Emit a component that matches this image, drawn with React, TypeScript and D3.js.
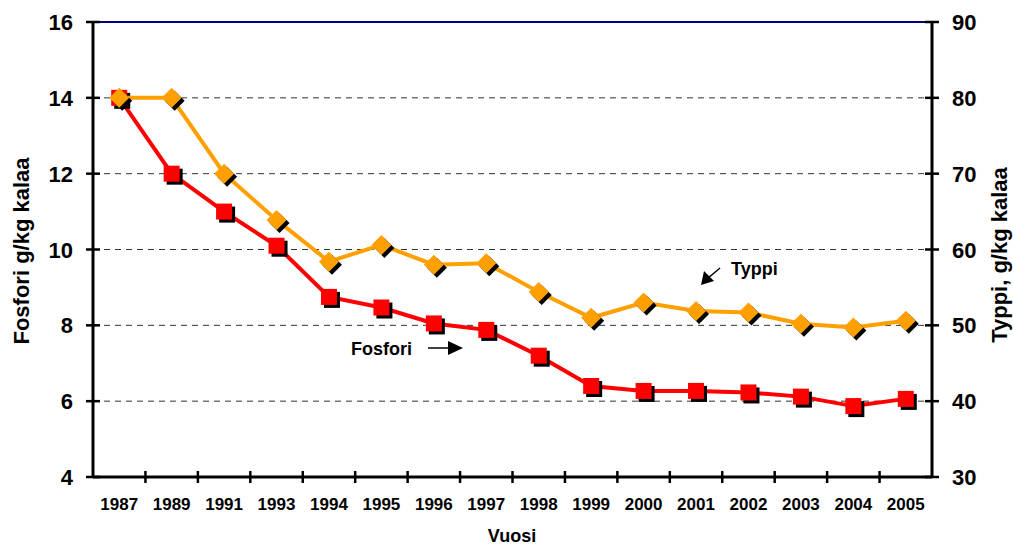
import React, { useRef, useEffect } from "react";
import * as d3 from "d3";

const years = ["1987", "1989", "1991", "1993", "1994", "1995", "1996", "1997", "1998", "1999", "2000", "2001", "2002", "2003", "2004", "2005"];
const fosfori = [14.0, 12.0, 11.0, 10.1, 8.75, 8.47, 8.05, 7.88, 7.2, 6.4, 6.27, 6.27, 6.23, 6.12, 5.87, 6.06];
const typpi = [80, 80, 70, 63.9, 58.4, 60.6, 58.0, 58.2, 54.4, 51.0, 53.0, 51.9, 51.7, 50.2, 49.7, 50.6];
const leftTicks = [4, 6, 8, 10, 12, 14, 16];
const rightTicks = [30, 40, 50, 60, 70, 80, 90];

const W = 1013;
const H = 545;

export default function App() {
  const svgRef = useRef<SVGSVGElement>(null);

  useEffect(() => {
    if (!svgRef.current) return;
    const svg = d3.select(svgRef.current);
    svg.selectAll("*").remove();

    const left = 93, right = 932, top = 22, bottom = 477;
    const font = "Liberation Sans, Arial, sans-serif";

    const x = d3.scaleBand<string>().domain(years).range([left, right]);
    const yL = d3.scaleLinear().domain([4, 16]).range([bottom, top]);
    const yR = d3.scaleLinear().domain([30, 90]).range([bottom, top]);
    const cx = (d: string) => (x(d) as number) + x.bandwidth() / 2;

    // 目盛り線（破線）
    leftTicks.filter((t) => t > 4 && t < 16).forEach((t) => {
      svg.append("line")
        .attr("x1", left).attr("x2", right)
        .attr("y1", yL(t)).attr("y2", yL(t))
        .attr("stroke", "#333").attr("stroke-width", 1)
        .attr("stroke-dasharray", "6,5");
    });

    // 上辺
    svg.append("line")
      .attr("x1", left).attr("x2", right)
      .attr("y1", top).attr("y2", top)
      .attr("stroke", "#000080").attr("stroke-width", 2);

    // 軸
    const axisLine = (x1: number, y1: number, x2: number, y2: number) =>
      svg.append("line")
        .attr("x1", x1).attr("y1", y1).attr("x2", x2).attr("y2", y2)
        .attr("stroke", "#000").attr("stroke-width", 3);
    axisLine(left, top - 1, left, bottom + 1);
    axisLine(right, top - 1, right, bottom + 1);
    axisLine(left, bottom, right, bottom);

    leftTicks.forEach((t) => {
      axisLine(left - 7, yL(t), left + 7, yL(t)).attr("stroke-width", 2.5);
      svg.append("text")
        .attr("x", left - 20).attr("y", yL(t) + 8)
        .attr("text-anchor", "end")
        .style("font-family", font).style("font-weight", "bold").style("font-size", "22px")
        .text(t);
    });
    rightTicks.forEach((t) => {
      axisLine(right - 7, yR(t), right + 7, yR(t)).attr("stroke-width", 2.5);
      svg.append("text")
        .attr("x", right + 20).attr("y", yR(t) + 8)
        .attr("text-anchor", "start")
        .style("font-family", font).style("font-weight", "bold").style("font-size", "22px")
        .text(t);
    });

    // x軸の目盛り
    years.forEach((d, i) => {
      if (i > 0) axisLine(x(d) as number, bottom - 6, x(d) as number, bottom + 6).attr("stroke-width", 2.5);
      svg.append("text")
        .attr("x", cx(d)).attr("y", bottom + 33)
        .attr("text-anchor", "middle")
        .style("font-family", font).style("font-weight", "bold").style("font-size", "17px")
        .text(d);
    });

    // 軸ラベル
    svg.append("text")
      .attr("transform", `translate(29,251) rotate(-90)`)
      .attr("text-anchor", "middle")
      .style("font-family", font).style("font-weight", "bold").style("font-size", "22px")
      .text("Fosfori g/kg kalaa");
    svg.append("text")
      .attr("transform", `translate(1007,255) rotate(-90)`)
      .attr("text-anchor", "middle")
      .style("font-family", font).style("font-weight", "bold").style("font-size", "22px")
      .text("Typpi, g/kg kalaa");
    svg.append("text")
      .attr("x", 512).attr("y", 542)
      .attr("text-anchor", "middle")
      .style("font-family", font).style("font-weight", "bold").style("font-size", "18px")
      .text("Vuosi");

    // 系列
    const lineF = d3.line<number>().x((_, i) => cx(years[i])).y((v) => yL(v));
    const lineT = d3.line<number>().x((_, i) => cx(years[i])).y((v) => yR(v));

    svg.append("path").attr("d", lineF(fosfori))
      .attr("fill", "none").attr("stroke", "#ff0000").attr("stroke-width", 4);

    const s = 16;
    fosfori.forEach((v, i) => {
      const px = cx(years[i]), py = yL(v);
      svg.append("rect").attr("x", px - s / 2 + 3).attr("y", py - s / 2 + 3)
        .attr("width", s).attr("height", s).attr("fill", "#000");
      svg.append("rect").attr("x", px - s / 2).attr("y", py - s / 2)
        .attr("width", s).attr("height", s).attr("fill", "#ff0000");
    });

    svg.append("path").attr("d", lineT(typpi))
      .attr("fill", "none").attr("stroke", "#ffa000").attr("stroke-width", 4);

    const dr = 10;
    const diamond = (px: number, py: number) =>
      `M${px},${py - dr}L${px + dr},${py}L${px},${py + dr}L${px - dr},${py}Z`;
    typpi.forEach((v, i) => {
      const px = cx(years[i]), py = yR(v);
      svg.append("path").attr("d", diamond(px + 3, py + 3)).attr("fill", "#000");
      svg.append("path").attr("d", diamond(px, py)).attr("fill", "#ffa000");
    });

    // 注釈
    svg.append("text")
      .attr("x", 351).attr("y", 355)
      .style("font-family", font).style("font-weight", "bold").style("font-size", "18px")
      .text("Fosfori");
    svg.append("line").attr("x1", 428).attr("y1", 348).attr("x2", 450).attr("y2", 348)
      .attr("stroke", "#000").attr("stroke-width", 1.5);
    svg.append("path").attr("d", "M448,341L463,348L448,355Z").attr("fill", "#000");

    svg.append("text")
      .attr("x", 731).attr("y", 275)
      .style("font-family", font).style("font-weight", "bold").style("font-size", "18px")
      .text("Typpi");
    svg.append("line").attr("x1", 720).attr("y1", 268).attr("x2", 707).attr("y2", 279)
      .attr("stroke", "#000").attr("stroke-width", 1.5);
    svg.append("path").attr("d", "M701,285L704,271L714,281Z").attr("fill", "#000");
  }, []);

  return (
    <svg
      ref={svgRef}
      width={W}
      height={H}
      viewBox={`0 0 ${W} ${H}`}
      style={{ position: "absolute", left: 0, top: 0, background: "#fff" }}
    />
  );
}
